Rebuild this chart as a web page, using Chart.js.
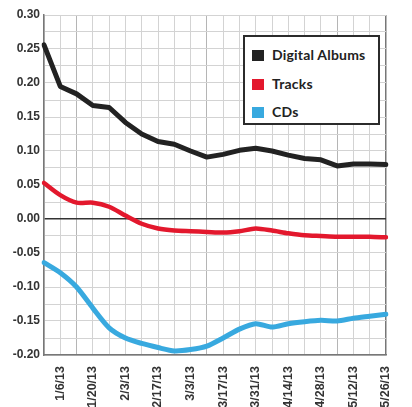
<!DOCTYPE html>
<html>
<head>
<meta charset="utf-8">
<script src="https://cdn.jsdelivr.net/npm/chart.js@4"></script>
<style>
    html, body { margin: 0; padding: 0; background: #fff; overflow: hidden; }
    #wrap { position: relative; width: 412px; height: 415px; }
    #legend {
        position: absolute; left: 243px; top: 35px; width: 133px; height: 86px;
        border: 2px solid #2b2b2b; background: #fff;
        font-family: Lato, "Open Sans", sans-serif; font-weight: 700; font-size: 14px; color: #222;
    }
    #legend .item { position: absolute; left: 7px; height: 14px; line-height: 14px; white-space: nowrap; letter-spacing: 0.2px; }
    #legend .box { display: inline-block; width: 12px; height: 11px; vertical-align: -1px; margin-right: 8px; }
</style>
</head>
<body>
<div id="wrap">
    <canvas id="salesChart"></canvas>
    <div id="legend"></div>
</div>
<script>
var weeks = ['12/30/12', '1/6/13', '1/13/13', '1/20/13', '1/27/13', '2/3/13', '2/10/13', '2/17/13',
    '2/24/13', '3/3/13', '3/10/13', '3/17/13', '3/24/13', '3/31/13', '4/7/13', '4/14/13',
    '4/21/13', '4/28/13', '5/5/13', '5/12/13', '5/19/13', '5/26/13'];

var digitalAlbums = [0.256, 0.195, 0.184, 0.167, 0.164, 0.142, 0.125, 0.114, 0.110, 0.100, 0.091,
    0.095, 0.101, 0.104, 0.100, 0.094, 0.089, 0.087, 0.078, 0.081, 0.081, 0.080];
var tracks = [0.053, 0.035, 0.024, 0.024, 0.018, 0.005, -0.007, -0.014, -0.017, -0.018, -0.019,
    -0.020, -0.018, -0.014, -0.017, -0.021, -0.024, -0.025, -0.026, -0.026, -0.026, -0.027];
var cds = [-0.064, -0.079, -0.100, -0.131, -0.160, -0.175, -0.183, -0.189, -0.194, -0.192, -0.187,
    -0.175, -0.162, -0.154, -0.159, -0.154, -0.151, -0.149, -0.150, -0.146, -0.143, -0.140];

var yMin = -0.20, yMax = 0.30, yStep = 0.025;

function fillLegend(chart) {
    var html = '';
    chart.data.datasets.forEach(function (ds, i) {
        html += '<div class="item" style="top:' + (11 + i * 28.5) + 'px">' +
            '<span class="box" style="background:' + ds.borderColor + '"></span>' + ds.label + '</div>';
    });
    document.getElementById('legend').innerHTML = html;
}

var ctx = document.getElementById('salesChart').getContext('2d');
var chart = new Chart(ctx, {
    type: 'line',
    data: {
        labels: weeks,
        datasets: [{
                label: 'Digital Albums',
                borderColor: '#222222',
                backgroundColor: '#222222',
                data: digitalAlbums,
                borderWidth: 5,
                tension: 0
            },
            {
                label: 'Tracks',
                borderColor: '#e3182d',
                backgroundColor: '#e3182d',
                data: tracks,
                borderWidth: 4.5,
                tension: 0.25
            },
            {
                label: 'CDs',
                borderColor: '#38a9df',
                backgroundColor: '#38a9df',
                data: cds,
                borderWidth: 5,
                tension: 0.25
            }
        ]
    },
    options: {
        responsive: true,
        maintainAspectRatio: false,
        animation: false,
        layout: { padding: { top: 15, right: 6, left: 0, bottom: 0 } },
        elements: {
            point: { radius: 0 },
            line: { fill: false, borderJoinStyle: 'round', borderCapStyle: 'round' }
        },
        plugins: {
            legend: { display: false },
            tooltip: { enabled: false }
        },
        scales: {
            x: {
                afterFit: function (s) { s.height = 60; },
                border: { color: '#777', width: 1.5 },
                grid: {
                    drawTicks: false,
                    color: function (c) {
                        if (c.index === weeks.length - 1) return '#777';
                        return (c.index % 8 === 2) ? '#b5b5b5' : '#d3d3d3';
                    },
                    lineWidth: function (c) { return c.index === weeks.length - 1 ? 1.5 : 1; }
                },
                ticks: {
                    autoSkip: false,
                    maxRotation: 90,
                    minRotation: 90,
                    padding: 11,
                    color: '#333',
                    font: { family: '"Liberation Sans", Arial, sans-serif', size: 12.5, weight: 'bold' },
                    callback: function (value, index) {
                        return index % 2 === 1 ? this.getLabelForValue(value) : '';
                    }
                }
            },
            y: {
                min: yMin,
                max: yMax,
                afterFit: function (s) { s.width = 44; },
                border: { color: '#777', width: 1.5 },
                grid: {
                    drawTicks: false,
                    color: function (c) {
                        return (c.tick && Math.abs(c.tick.value) < 1e-9) ? '#333' : '#d3d3d3';
                    },
                    lineWidth: function (c) {
                        return (c.tick && Math.abs(c.tick.value) < 1e-9) ? 1.5 : 1;
                    }
                },
                ticks: {
                    stepSize: yStep,
                    maxTicksLimit: 30,
                    autoSkip: false,
                    padding: 4,
                    color: '#333',
                    font: { family: '"Liberation Sans", Arial, sans-serif', size: 12, weight: 'bold' },
                    callback: function (value) {
                        var m = Math.round(value * 1000);
                        if (m % 50 !== 0) return '';
                        return (m / 1000).toFixed(2);
                    }
                }
            }
        }
    }
});

fillLegend(chart);
</script>
</body>
</html>
